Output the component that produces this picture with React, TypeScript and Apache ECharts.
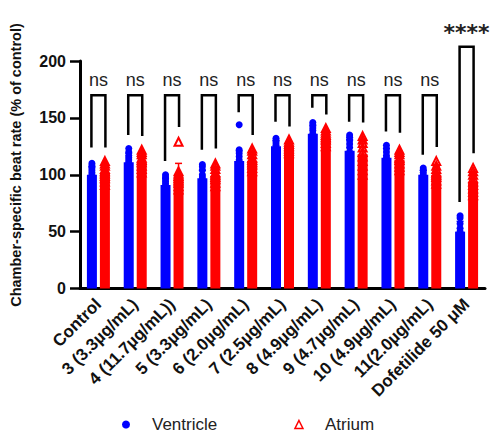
import React, { useEffect, useRef } from "react";
import * as echarts from "echarts";

const categories = [
  "Control",
  "3 (3.3µg/mL)",
  "4 (11.7µg/mL))",
  "5 (3.3µg/mL)",
  "6 (2.0µg/mL)",
  "7 (2.5µg/mL)",
  "8 (4.9µg/mL)",
  "9 (4.7µg/mL)",
  "10 (4.9µg/mL)",
  "11(2.0µg/mL)",
  "Dofetilide 50 μM",
];

const yTicks = { min: 0, max: 200, interval: 50 };

const ventricleMean = [100, 111, 91, 97, 112, 125, 136, 121, 115, 100, 50];
const ventricleSD = [7, 8, 6, 7, 9, 5, 7, 10, 8, 4, 9];
const atriumMean = [101, 111, 97, 99, 112, 125, 132, 118, 113, 100, 93];
const atriumSD = [7, 8, 13, 7, 8, 4, 6, 11, 6, 7, 8];

const ventriclePoints = [
  [110, 108, 106, 104, 102, 100, 98, 96, 93, 90],
  [123, 120, 117, 115, 113, 111, 109, 106, 103, 100],
  [100, 98, 96, 94, 92, 90, 88, 86, 84],
  [109, 107, 104, 100, 98, 96, 94, 92, 90, 88],
  [144, 122, 119, 116, 113, 111, 109, 106, 103, 100],
  [132, 130, 128, 126, 124, 122, 120, 118],
  [146, 144, 141, 139, 136, 134, 132, 129, 126],
  [135, 133, 130, 127, 124, 120, 116, 112, 108],
  [126, 123, 120, 117, 115, 112, 110, 106, 103],
  [106, 104, 102, 100, 98, 96],
  [64, 62, 57, 53, 50, 46, 42, 38, 31],
];

const atriumPoints = [
  [112, 110, 108, 105, 103, 101, 99, 97, 94, 91],
  [122, 120, 118, 115, 113, 111, 108, 105, 102],
  [129, 103, 101, 99, 97, 95, 93, 90, 87],
  [110, 108, 105, 102, 100, 98, 96, 93, 90],
  [123, 121, 118, 115, 113, 111, 109, 106, 103],
  [131, 129, 127, 125, 123, 121, 119],
  [141, 139, 137, 135, 133, 131, 128, 125],
  [134, 131, 128, 124, 120, 116, 112, 108, 104, 100],
  [122, 120, 118, 115, 113, 110, 107, 104],
  [112, 108, 105, 102, 100, 98, 95, 92],
  [106, 103, 100, 97, 94, 91, 88, 85, 82],
];

// significance brackets: top of bracket, end of left leg, end of right leg, label position, label
const sigTop = [170, 170, 170, 170, 170, 170, 170, 170, 170, 170, 212.5];
const sigLeft = [124, 135, 112, 122, 155, 146.5, 159, 146.5, 138, 117.5, 76];
const sigRight = [124, 134, 142, 123, 135, 142.5, 153, 146, 137, 124.5, 119];
const sigLabelAt = [183.5, 183.5, 183.5, 183.5, 183.5, 183.5, 183.5, 183.5, 183.5, 183.5, 225];
const sigLabels = ["ns", "ns", "ns", "ns", "ns", "ns", "ns", "ns", "ns", "ns", "****"];

const BLUE = "#0000FF";
const RED = "#FF0000";
const OFF = 6.5;

function flatten(points: number[][]) {
  const out: number[][] = [];
  points.forEach((arr, i) => arr.forEach((v) => out.push([i, v])));
  return out;
}

function errorSeries(mean: number[], sd: number[], color: string, offset: number) {
  return {
    type: "custom",
    clip: false,
    silent: true,
    z: 3,
    encode: { x: 0, y: 1 },
    data: mean.map((m, i) => [i, m, m + sd[i]]),
    renderItem: (params: any, api: any) => {
      const i = api.value(0);
      const a = api.coord([i, api.value(1)]);
      const b = api.coord([i, api.value(2)]);
      const x = a[0] + offset;
      return {
        type: "group",
        children: [
          { type: "line", shape: { x1: x, y1: a[1], x2: x, y2: b[1] }, style: { stroke: color, lineWidth: 1.5 } },
          { type: "line", shape: { x1: x - 3.5, y1: b[1], x2: x + 3.5, y2: b[1] }, style: { stroke: color, lineWidth: 1.5 } },
        ],
      };
    },
  };
}

export default function App() {
  const ref = useRef<HTMLDivElement>(null);
  useEffect(() => {
    document.body.style.margin = "0";
    const chart = echarts.init(ref.current!, null, { renderer: "svg" });
    const font = "'Liberation Sans', Arial, sans-serif";
    chart.setOption({
      animation: false,
      grid: { left: 80, right: 10, top: 61, bottom: 146.5, containLabel: false },
      legend: {
        left: 122,
        top: 416,
        itemWidth: 8,
        itemHeight: 8,
        itemGap: 77,
        padding: 0,
        textStyle: { fontSize: 17, lineHeight: 17, color: "#222", fontFamily: font, padding: [0, 0, 0, 17] },
        data: [
          { name: "Ventricle", icon: "circle", itemStyle: { color: BLUE } },
          {
            name: "Atrium",
            icon: "triangle",
            itemStyle: { color: "#fff", borderColor: RED, borderWidth: 1.5 },
          },
        ],
      },
      graphic: [
        {
          type: "text",
          x: 16,
          y: 165,
          rotation: Math.PI / 2,
          style: {
            text: "Chamber-specific beat rate (% of control)",
            fontSize: 14.5,
            fontWeight: "bold",
            fontFamily: font,
            fill: "#111",
            textAlign: "center",
            textVerticalAlign: "middle",
          },
        },
      ],
      xAxis: {
        type: "category",
        data: categories,
        boundaryGap: true,
        axisLine: { lineStyle: { color: "#000", width: 3 } },
        axisTick: { alignWithLabel: true, length: 10, lineStyle: { color: "#000", width: 3 } },
        axisLabel: {
          rotate: 45,
          interval: 0,
          margin: 13,
          fontSize: 17,
          fontWeight: "bold",
          fontFamily: font,
          color: "#111",
        },
      },
      yAxis: {
        type: "value",
        min: yTicks.min,
        max: yTicks.max,
        interval: yTicks.interval,
        axisLine: { show: true, lineStyle: { color: "#000", width: 3 } },
        axisTick: { show: true, length: 10, lineStyle: { color: "#000", width: 2.5 } },
        splitLine: { show: false },
        axisLabel: { fontSize: 16, fontWeight: "bold", fontFamily: font, color: "#111", margin: 14 },
      },
      series: [
        {
          name: "Ventricle mean",
          type: "bar",
          data: ventricleMean,
          barWidth: 10,
          barGap: "30%",
          itemStyle: { color: BLUE },
          silent: true,
          z: 2,
        },
        {
          name: "Atrium mean",
          type: "bar",
          data: atriumMean,
          barWidth: 10,
          barGap: "30%",
          itemStyle: { color: RED },
          silent: true,
          z: 2,
        },
        errorSeries(ventricleMean, ventricleSD, BLUE, -OFF),
        errorSeries(atriumMean, atriumSD, RED, OFF),
        {
          name: "Ventricle",
          type: "scatter",
          data: flatten(ventriclePoints),
          symbol: "circle",
          symbolSize: 7,
          symbolOffset: [-OFF, 0],
          itemStyle: { color: BLUE, opacity: 1 },
          z: 4,
        },
        {
          name: "Atrium",
          type: "scatter",
          data: flatten(atriumPoints),
          symbol: "triangle",
          symbolSize: 8,
          symbolOffset: [OFF, 0],
          itemStyle: { color: "rgba(255,255,255,0)", borderColor: RED, borderWidth: 2, opacity: 1 },
          z: 4,
        },
        {
          type: "custom",
          clip: false,
          silent: true,
          z: 5,
          encode: { x: 0, y: 1 },
          data: categories.map((_, i) => [i, sigTop[i], sigLeft[i], sigRight[i], sigLabelAt[i]]),
          renderItem: (params: any, api: any) => {
            const i = api.value(0);
            const top = api.coord([i, api.value(1)]);
            const l = api.coord([i, api.value(2)]);
            const r = api.coord([i, api.value(3)]);
            const t = api.coord([i, api.value(4)]);
            const label = sigLabels[params.dataIndex];
            const star = label !== "ns";
            return {
              type: "group",
              children: [
                {
                  type: "polyline",
                  shape: {
                    points: [
                      [l[0] - 7, l[1]],
                      [top[0] - 7, top[1]],
                      [top[0] + 7, top[1]],
                      [r[0] + 7, r[1]],
                    ],
                  },
                  style: { stroke: "#000", lineWidth: 2.5, fill: null },
                },
                {
                  type: "text",
                  x: t[0],
                  y: t[1],
                  style: {
                    text: label,
                    fontSize: star ? 22 : 18,
                    fontWeight: star ? "bold" : "normal",
                    fontFamily: star ? "'DejaVu Sans', sans-serif" : font,
                    fill: "#222",
                    textAlign: "center",
                    textVerticalAlign: "middle",
                  },
                },
              ],
            };
          },
        },
      ],
    });
    return () => chart.dispose();
  }, []);
  return <div ref={ref} style={{ width: 495, height: 435 }} />;
}
